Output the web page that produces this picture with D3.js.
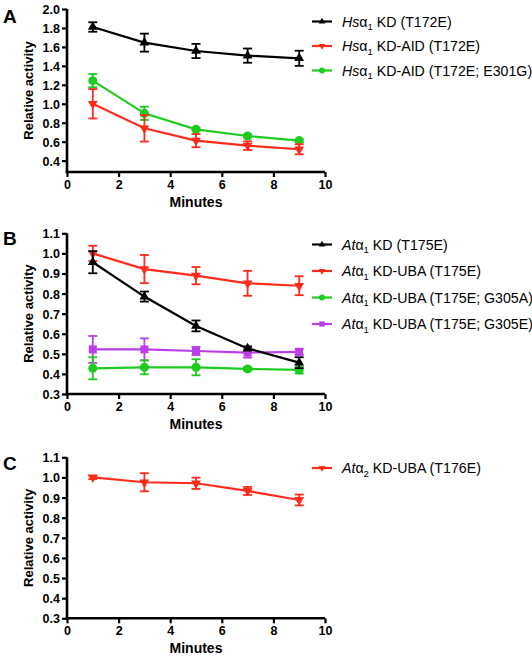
<!DOCTYPE html>
<html><head><meta charset="utf-8">
<script src="https://cdn.jsdelivr.net/npm/d3@7"></script>
<style>
html,body{margin:0;padding:0;background:#fff;}
svg{display:block;font-family:"Liberation Sans",Arial,sans-serif;}
</style></head>
<body>
<svg id="chart" width="532" height="660"></svg>
<script>
// ---------- data ----------
const minutes = [1, 3, 5, 7, 9];
const xTicks = [0, 2, 4, 6, 8, 10];
const yTicksA = [0.4, 0.6, 0.8, 1.0, 1.2, 1.4, 1.6, 1.8, 2.0];
const yTicksBC = [0.3, 0.4, 0.5, 0.6, 0.7, 0.8, 0.9, 1.0, 1.1];

// Panel A
const hsKD = [1.81, 1.645, 1.557, 1.508, 1.48];
const hsKDErr = [0.05, 0.095, 0.075, 0.075, 0.08];
const hsAID = [1.0, 0.741, 0.611, 0.558, 0.52];
const hsAIDErr = [0.155, 0.14, 0.07, 0.045, 0.053];
const hsAIDmut = [1.244, 0.899, 0.73, 0.66, 0.611];
const hsAIDmutErr = [0.07, 0.07, 0.015, 0.015, 0.015];

// Panel B
const atKD = [0.956, 0.785, 0.639, 0.527, 0.456];
const atKDErr = [0.055, 0.025, 0.027, 0.01, 0.027];
const atUBA = [1.0, 0.922, 0.889, 0.851, 0.839];
const atUBAErr = [0.038, 0.07, 0.043, 0.062, 0.047];
const atG305A = [0.428, 0.433, 0.433, 0.425, 0.42];
const atG305AErr = [0.055, 0.035, 0.04, 0.008, 0.018];
const atG305E = [0.522, 0.522, 0.514, 0.506, 0.51];
const atG305EErr = [0.067, 0.055, 0.02, 0.025, 0.015];

// Panel C
const at2UBA = [1.0, 0.976, 0.971, 0.933, 0.888];
const at2UBAErr = [0.008, 0.045, 0.028, 0.02, 0.027];

// legend labels: [italic species, greek, subscript, rest]
const legendA = [["Hs","α","1"," KD (T172E)"],["Hs","α","1"," KD-AID (T172E)"],["Hs","α","1"," KD-AID (T172E; E301G)"]];
const legendB = [["At","α","1"," KD (T175E)"],["At","α","1"," KD-UBA (T175E)"],["At","α","1"," KD-UBA (T175E; G305A)"],["At","α","1"," KD-UBA (T175E; G305E)"]];
const legendC = [["At","α","2"," KD-UBA (T176E)"]];

// ---------- styles ----------
const BLACK = "#000000", RED = "#ff2b1c", GREEN = "#1ecb1e", PURPLE = "#bb3ee8";
const triUp = d3.symbol().type(d3.symbolTriangle);
const circ = d3.symbol().type(d3.symbolCircle);
const sq = d3.symbol().type(d3.symbolSquare);

const svg = d3.select("#chart");
svg.append("rect").attr("width",532).attr("height",660).attr("fill","#fff");

function panel(cfg) {
  const x = d3.scaleLinear().domain([0, 10]).range([67, 325]);
  const y = d3.scaleLinear().domain(cfg.yDomain).range(cfg.yRange);
  const g = svg.append("g");

  // series (drawn in reverse so first is on top)
  cfg.series.slice().reverse().forEach(s => {
    const pts = minutes.map((m, i) => ({x: m, y: s.values[i], e: s.errors[i]}));
    const line = d3.line().x(d => x(d.x)).y(d => y(d.y));
    const sg = g.append("g");
    sg.append("path").datum(pts).attr("d", line)
      .attr("fill","none").attr("stroke", s.color).attr("stroke-width", 2.2);
    const eb = sg.selectAll(".eb").data(pts).enter().append("g");
    eb.append("line").attr("x1", d => x(d.x)).attr("x2", d => x(d.x))
      .attr("y1", d => y(d.y + d.e)).attr("y2", d => y(d.y - d.e))
      .attr("stroke", s.color).attr("stroke-width", 1.8);
    [1, -1].forEach(sign => {
      eb.append("line").attr("x1", d => x(d.x) - 4.5).attr("x2", d => x(d.x) + 4.5)
        .attr("y1", d => y(d.y + sign * d.e)).attr("y2", d => y(d.y + sign * d.e))
        .attr("stroke", s.color).attr("stroke-width", 1.8);
    });
    sg.selectAll(".mk").data(pts).enter().append("path")
      .attr("d", s.symbol.size(s.size)())
      .attr("transform", d => `translate(${x(d.x)},${y(d.y)}) rotate(${s.rot||0})`)
      .attr("fill", s.color);
  });

  // axes
  const xa = g.append("g").attr("transform", `translate(0,${cfg.yRange[0]})`)
    .call(d3.axisBottom(x).tickValues(xTicks).tickSize(5).tickSizeOuter(0).tickFormat(d3.format("d")));
  const ya = g.append("g").attr("transform", `translate(67,0)`)
    .call(d3.axisLeft(y).tickValues(cfg.yTicks).tickSize(5).tickSizeOuter(0).tickFormat(d3.format(".1f")));
  [xa, ya].forEach(a => {
    a.select(".domain").attr("stroke","#000").attr("stroke-width",2.6);
    a.selectAll(".tick line").attr("stroke","#000").attr("stroke-width",2.2);
    a.selectAll("text").attr("fill","#000").attr("font-weight","bold")
      .attr("font-size", 12.5).attr("font-family","'Liberation Sans',Arial,sans-serif");
  });
  xa.selectAll("text").attr("dy", "0.95em").attr("y", 5);
  ya.selectAll("text").attr("x", -7).attr("dy", "0.36em");
  xa.select(".domain").attr("d", `M${67-1.3},0H325`);
  ya.select(".domain").attr("d", `M0,${cfg.yRange[0]+1.3}V${cfg.yRange[1]}`);

  // axis titles
  g.append("text").attr("x", x(5)).attr("y", cfg.yRange[0] + 35)
    .attr("text-anchor","middle").attr("font-weight","bold").attr("font-size",14).text("Minutes");
  const cy = (cfg.yRange[0] + cfg.yRange[1]) / 2;
  g.append("text").attr("transform", `translate(33,${cy}) rotate(-90)`)
    .attr("text-anchor","middle").attr("font-weight","bold").attr("font-size",13).text("Relative activity");

  // panel letter
  g.append("text").attr("x", 3).attr("y", cfg.letterY).attr("font-weight","bold")
    .attr("font-size", 19).text(cfg.letter);

  // legend
  cfg.series.forEach((s, i) => {
    const ly = cfg.legendY + i * cfg.legendStep;
    const lg = g.append("g");
    lg.append("line").attr("x1", 312).attr("x2", 332).attr("y1", ly).attr("y2", ly)
      .attr("stroke", s.color).attr("stroke-width", 2.2);
    lg.append("path").attr("d", s.symbol.size(s.size * 0.45)())
      .attr("transform", `translate(322,${ly}) rotate(${s.rot||0})`).attr("fill", s.color);
    const t = lg.append("text").attr("x", 342).attr("y", ly + 5).attr("font-size", 14.2).attr("fill","#000");
    const lab = s.label;
    t.append("tspan").attr("font-style","italic").text(lab[0]);
    t.append("tspan").text(lab[1]);
    t.append("tspan").attr("font-size", 9.5).attr("dy", 3.5).text(lab[2]);
    t.append("tspan").attr("dy", -3.5).text(lab[3]);
  });
}

panel({
  letter: "A", letterY: 23,
  yDomain: [0.28, 2.0], yRange: [172, 9], yTicks: yTicksA,
  legendY: 21.5, legendStep: 24.5,
  series: [
    {values: hsKD, errors: hsKDErr, color: BLACK, symbol: triUp, size: 42, rot: 0, label: legendA[0]},
    {values: hsAID, errors: hsAIDErr, color: RED, symbol: triUp, size: 42, rot: 180, label: legendA[1]},
    {values: hsAIDmut, errors: hsAIDmutErr, color: GREEN, symbol: circ, size: 64, label: legendA[2]}
  ]
});

panel({
  letter: "B", letterY: 245,
  yDomain: [0.3, 1.1], yRange: [394, 233.3], yTicks: yTicksBC,
  legendY: 244.5, legendStep: 26.5,
  series: [
    {values: atKD, errors: atKDErr, color: BLACK, symbol: triUp, size: 42, rot: 0, label: legendB[0]},
    {values: atUBA, errors: atUBAErr, color: RED, symbol: triUp, size: 42, rot: 180, label: legendB[1]},
    {values: atG305A, errors: atG305AErr, color: GREEN, symbol: circ, size: 64, label: legendB[2]},
    {values: atG305E, errors: atG305EErr, color: PURPLE, symbol: sq, size: 64, label: legendB[3]}
  ]
});

panel({
  letter: "C", letterY: 470,
  yDomain: [0.3, 1.1], yRange: [618.3, 457.3], yTicks: yTicksBC,
  legendY: 468, legendStep: 26.5,
  series: [
    {values: at2UBA, errors: at2UBAErr, color: RED, symbol: triUp, size: 42, rot: 180, label: legendC[0]}
  ]
});
</script>
</body></html>
